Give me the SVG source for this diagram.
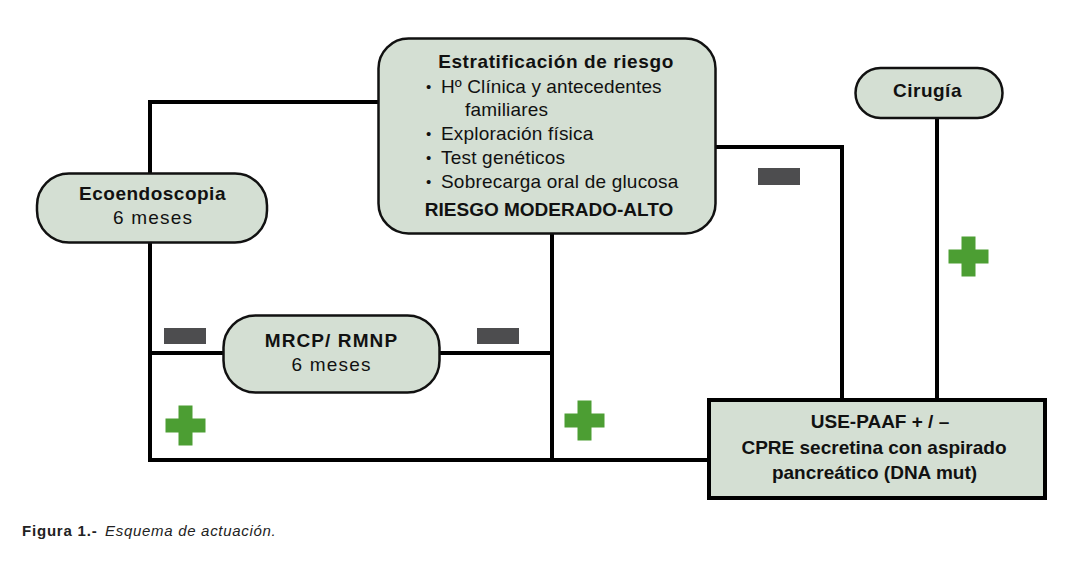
<svg xmlns="http://www.w3.org/2000/svg" width="1080" height="570" viewBox="0 0 1080 570">
  <style>
    .node { fill: #d4dfd3; stroke: #111; stroke-width: 2.5; }
    .box { fill: #d4dfd3; stroke: #000; stroke-width: 4; }
    .conn { fill: none; stroke: #000; stroke-width: 4; stroke-linejoin: miter; stroke-linecap: square; }
    .minus { fill: #4d4d4f; }
    .plus { fill: #4c9e33; }
    text { font-family: "Liberation Sans", Arial, sans-serif; fill: #111; font-size: 19px; }
    .b { font-weight: bold; }
    .c { text-anchor: middle; }
    .bul { font-size: 15px; }
    .cap { font-size: 15px; fill: #222; }
  </style>
  <defs>
    <path id="plus" class="plus" d="M-7,-20 H7 V-7 H20 V7 H7 V20 H-7 V7 H-20 V-7 H-7 Z"/>
  </defs>

  <g id="connectors">
    <polyline class="conn" points="378,102 150,102 150,173"/>
    <polyline class="conn" points="150,243 150,460 709,460"/>
    <line class="conn" x1="150" y1="353" x2="223" y2="353"/>
    <line class="conn" x1="439" y1="353" x2="552" y2="353"/>
    <line class="conn" x1="552" y1="234" x2="552" y2="460"/>
    <polyline class="conn" points="715,147 842,147 842,400"/>
    <line class="conn" x1="937" y1="118" x2="937" y2="400"/>
  </g>

  <g id="signs">
    <rect class="minus" x="164" y="328" width="42" height="16"/>
    <rect class="minus" x="477" y="328" width="42" height="16"/>
    <rect class="minus" x="758" y="168" width="42" height="17"/>
    <use href="#plus" x="185.5" y="425.5"/>
    <use href="#plus" x="584.5" y="420.5"/>
    <use href="#plus" x="968.5" y="256.5"/>
  </g>

  <g id="estratificacion">
    <rect class="node" x="378.5" y="38.5" width="337" height="195" rx="30"/>
    <text class="b c" x="556" y="68" style="letter-spacing:0.6px">Estratificación de riesgo</text>
    <text class="bul" x="426" y="92">•</text>
    <text x="441" y="93" style="letter-spacing:0.1px">Hº Clínica y antecedentes</text>
    <text x="465" y="116" style="letter-spacing:0.2px">familiares</text>
    <text class="bul" x="426" y="139">•</text>
    <text x="441" y="140" style="letter-spacing:0.2px">Exploración física</text>
    <text class="bul" x="426" y="163">•</text>
    <text x="441" y="164" style="letter-spacing:0.2px">Test genéticos</text>
    <text class="bul" x="426" y="187">•</text>
    <text x="441" y="188" style="letter-spacing:0.2px">Sobrecarga oral de glucosa</text>
    <text class="b c" x="549" y="216">RIESGO MODERADO-ALTO</text>
  </g>

  <g id="ecoendoscopia">
    <rect class="node" x="37" y="173.5" width="230" height="69" rx="32"/>
    <text class="b c" x="152.5" y="200" style="letter-spacing:0.5px">Ecoendoscopia</text>
    <text class="c" x="153" y="224" style="letter-spacing:1.2px">6 meses</text>
  </g>

  <g id="mrcp">
    <rect class="node" x="223.5" y="315.5" width="216" height="77" rx="32"/>
    <text class="b c" x="331.5" y="347" style="letter-spacing:1.1px">MRCP/ RMNP</text>
    <text class="c" x="331.5" y="371" style="letter-spacing:1.2px">6 meses</text>
  </g>

  <g id="cirugia">
    <rect class="node" x="855.5" y="68" width="147" height="50" rx="25"/>
    <text class="b c" x="927.5" y="97" style="letter-spacing:0.5px">Cirugía</text>
  </g>

  <g id="use-paaf">
    <rect class="box" x="709" y="400" width="336" height="98"/>
    <text class="b c" x="880" y="428">USE-PAAF + / –</text>
    <text class="b c" x="874" y="454">CPRE secretina con aspirado</text>
    <text class="b c" x="874.5" y="479">pancreático (DNA mut)</text>
  </g>

  <g id="caption">
    <text class="cap b" x="22" y="536" style="letter-spacing:0.8px">Figura 1.-</text>
    <text class="cap" x="105" y="536" font-style="italic" style="letter-spacing:0.7px">Esquema de actuación.</text>
  </g>
</svg>
